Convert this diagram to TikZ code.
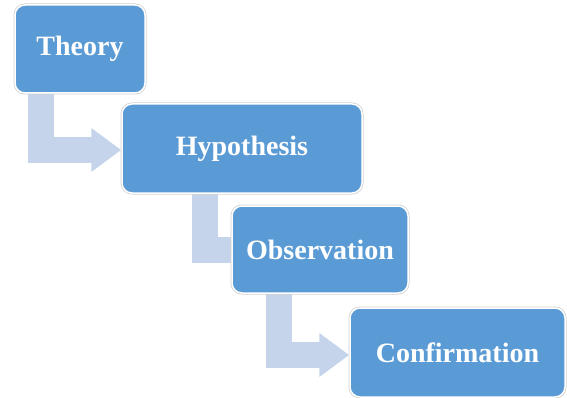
\documentclass[tikz,border=0pt]{standalone}
\usepackage{fontspec}
\setmainfont{Liberation Serif}
\usetikzlibrary{arrows.meta,backgrounds}
\definecolor{boxblue}{RGB}{91,155,213}
\definecolor{flowblue}{RGB}{197,212,235}
\begin{document}
\begin{tikzpicture}[x=1pt, y=-1pt,
		main/.style={fill=boxblue, draw=white, line width=1.5pt, rounded corners=10pt,
			preaction={draw=black!18, line width=3pt},
			text=white, font=\fontsize{28}{31}\selectfont\bfseries, inner sep=0pt},
		flow/.style={draw=flowblue, line width=26pt, line join=miter,
			-{Triangle[width=42pt, length=30pt]}}]
		\useasboundingbox (0,0) rectangle (567,398);

		\node[main, minimum width=130pt, minimum height=88pt] (theory) at (80,49) {Theory};
		\node[main, minimum width=240pt, minimum height=89pt] (hypothesis) at (242,148.5) {Hypothesis};
		\node[main, minimum width=176pt, minimum height=87pt] (observation) at (320,249.5) {Observation};
		\node[main, minimum width=215pt, minimum height=89pt] (confirmation) at (457.5,352.5) {Confirmation};

		\begin{scope}[on background layer]
			\draw[flow] ([xshift=27pt]theory.south west) |- ([yshift=-1.5pt]hypothesis.west);
			\draw[flow] ([xshift=84pt]hypothesis.south west) |- ([xshift=30pt]observation.west);
			\draw[flow] ([xshift=48pt]observation.south west) |- ([yshift=-2.5pt]confirmation.west);
		\end{scope}
	\end{tikzpicture}
\end{document}
